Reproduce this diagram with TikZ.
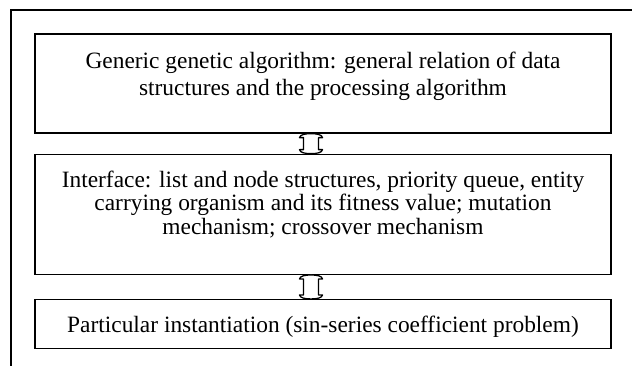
\documentclass[tikz,border=0pt]{standalone}
\usepackage{fontspec}
\setmainfont{Liberation Serif}
\usetikzlibrary{calc, positioning}
\tikzstyle{block} = [draw, line width=1.3pt, rectangle, minimum width=576pt, inner sep=0pt]
\tikzstyle{txt} = [align=center, inner sep=0pt, anchor=north, font=\fontsize{23.4}{27}\selectfont]
\tikzstyle{dbl} = [draw, line width=1.3pt, fill=white, line join=round]
% hollow up-down arrow between the bottom of #1 and the top of #2
\newcommand{\link}[2]{
  \draw [dbl] let \p1=($(#1.south)+(-12,0)$), \p2=($(#2.north)+(-12,0)$) in
    (\x1,\y1) .. controls (\x1-6pt,\y1) and (\x1-11pt,\y1-1pt) .. (\x1-11.5pt,\y1-4pt)
    -- (\x1-7.5pt,\y1-4pt) -- (\x1-7.5pt,\y2+4pt) -- (\x1-11.5pt,\y2+4pt)
    .. controls (\x1-11pt,\y2+1pt) and (\x1-6pt,\y2) .. (\x1,\y2)
    .. controls (\x1+6pt,\y2) and (\x1+11pt,\y2+1pt) .. (\x1+11.5pt,\y2+4pt)
    -- (\x1+7.5pt,\y2+4pt) -- (\x1+7.5pt,\y1-4pt) -- (\x1+11.5pt,\y1-4pt)
    .. controls (\x1+11pt,\y1-1pt) and (\x1+6pt,\y1) .. (\x1,\y1) -- cycle;
}
\begin{document}
\begin{tikzpicture}[x=1pt, y=-1pt]
    \useasboundingbox (0,0) rectangle (632,366);
    % outer frame
    \coordinate (frameBot) at (11,366);
    \coordinate (frameCorner) at (11,10);
    \coordinate (frameEnd) at (632,10);
    \draw [line width=1.3pt] (frameBot) -- (frameCorner) -- (frameEnd);
    % the three layers
    \node [block, minimum height=99pt] (generic) at (323,83.5) {};
    \node [block, minimum height=120pt, below=20pt of generic] (iface) {};
    \node [block, minimum height=49pt, below=24pt of iface] (inst) {};
    \node [txt] (genericText) at ($(generic.north)+(0,18)$)
        {Generic genetic algorithm: general relation of data\\structures and the processing algorithm};
    \node [txt, font=\fontsize{23.4}{23.5}\selectfont] (ifaceText) at ($(iface.north)+(0,17)$)
        {Interface: list and node structures, priority queue, entity\\carrying organism and its fitness value; mutation\\mechanism; crossover mechanism};
    \node [txt] (instText) at ($(inst.north)+(0,17)$)
        {Particular instantiation (sin-series coefficient problem)};
    \link{generic}{iface}
    \link{iface}{inst}
\end{tikzpicture}
\end{document}
